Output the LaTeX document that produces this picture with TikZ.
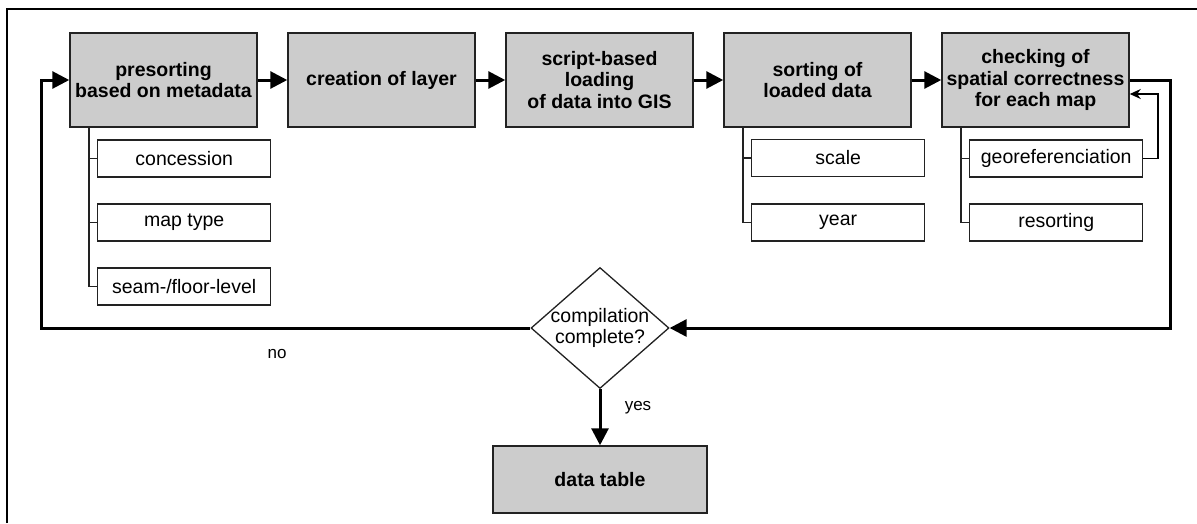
\documentclass[tikz,border=0pt]{standalone}
\usepackage{fontspec}
\setmainfont{Liberation Sans}
\usetikzlibrary{arrows.meta,shapes.geometric,calc}
\definecolor{boxgray}{HTML}{CCCCCC}
\definecolor{edge}{HTML}{222222}
\tikzset{
  mainbox/.style={draw=edge, line width=1.5pt, fill=boxgray, minimum width=187pt,
    minimum height=94pt, inner sep=0pt, align=center,
    font=\fontsize{19.5}{21.5}\selectfont\bfseries},
  subbox/.style={draw=edge, line width=1.4pt, fill=white, minimum width=173pt,
    minimum height=37pt, inner sep=0pt, anchor=west,
    font=\fontsize{19.5}{21.5}\selectfont},
  flow/.style={line width=3pt, -{Triangle[length=17pt,width=17pt]}},
  bar/.style={line width=3pt},
  trunk/.style={draw=edge, line width=2pt},
  tick/.style={draw=edge, line width=1.3pt},
  thinflow/.style={line width=1.3pt, -{Stealth[length=11pt,width=10pt]}},
  lbl/.style={font=\fontsize{17}{19}\selectfont}
}
\begin{document}
\begin{tikzpicture}[x=1pt,y=-1pt]
\useasboundingbox (0,0) rectangle (1197,523);
% partial frame
\draw[line width=1.5pt] (7,523) -- (7,9) -- (1197,9);

% main process row
\node[mainbox] (b1) at (163.5,80) {presorting\\based on metadata};
\node[mainbox] (b2) at (381.5,80) {creation of layer};
\node[mainbox] (b3) at (599.5,80) {script-based\\loading\\of data into GIS};
\node[mainbox] (b4) at (817.5,80) {sorting of\\loaded data};
\node[mainbox] (b5) at (1035.5,80) {checking of\\spatial correctness\\for each map};

% attributes of presorting
\node[subbox] (c1) at (97,158.5) {\makebox[173pt]{concession}};
\node[subbox] (c2) at (97,222.5) {\makebox[173pt]{map type}};
\node[subbox] (c3) at (97,286.5) {\makebox[173pt]{seam-/floor-level}};
% attributes of sorting
\node[subbox] (s1) at (751,158) {\makebox[173pt]{scale}};
\node[subbox] (s2) at (751,222.5) {\makebox[173pt]{year}};
% attributes of checking
\node[subbox] (k1) at (969,158.5) {\makebox[173pt]{georeferenciation}};
\node[subbox] (k2) at (969,222.5) {\makebox[173pt]{resorting}};

% decision and result
\node[diamond, draw=edge, line width=1.3pt, fill=white, minimum width=138pt,
  minimum height=121pt, inner sep=0pt] (dec) at (600,328) {};
\node[align=center, font=\fontsize{19.5}{21}\selectfont] at (dec) {compilation\\complete?};
\node[mainbox, minimum width=214pt, minimum height=67pt] (dt) at (600,479.5) {data table};

% branch lines
\coordinate (t1) at ([xshift=20pt]b1.south west);
\coordinate (t4) at ([xshift=20pt]b4.south west);
\coordinate (t5) at ([xshift=20pt]b5.south west);
\draw[trunk] (t1) -- (t1 |- c3.west);
\draw[tick] (c1.west) -- (c1.west -| t1);
\draw[tick] (c2.west) -- (c2.west -| t1);
\draw[tick] (c3.west) -- (c3.west -| t1);
\draw[trunk] (t4) -- (t4 |- s2.west);
\draw[tick] (s1.west) -- (s1.west -| t4);
\draw[tick] (s2.west) -- (s2.west -| t4);
\draw[trunk] (t5) -- (t5 |- k2.west);
\draw[tick] (k1.west) -- (k1.west -| t5);
\draw[tick] (k2.west) -- (k2.west -| t5);

% flow between steps
\draw[flow] (b1) -- (b2);
\draw[flow] (b2) -- (b3);
\draw[flow] (b3) -- (b4);
\draw[flow] (b4) -- (b5);

% georeferenciation feeds back
\coordinate (gr) at (1158,94);
\draw[thinflow] (k1.east) -| (gr) -- (gr -| b5.east);

% loop to decision
\coordinate (rc) at (1170,80);
\draw[flow] (b5.east) -- (rc) |- (dec.east);
\coordinate (lc) at (41,328);
\draw[flow] (dec.west) -- (lc) |- (b1.west);
\draw[flow] (dec.south) -- (dt.north);

\node[lbl] (no) at (277,354) {no};
\node[lbl] (yes) at (638,408) {yes};
\end{tikzpicture}
\end{document}
